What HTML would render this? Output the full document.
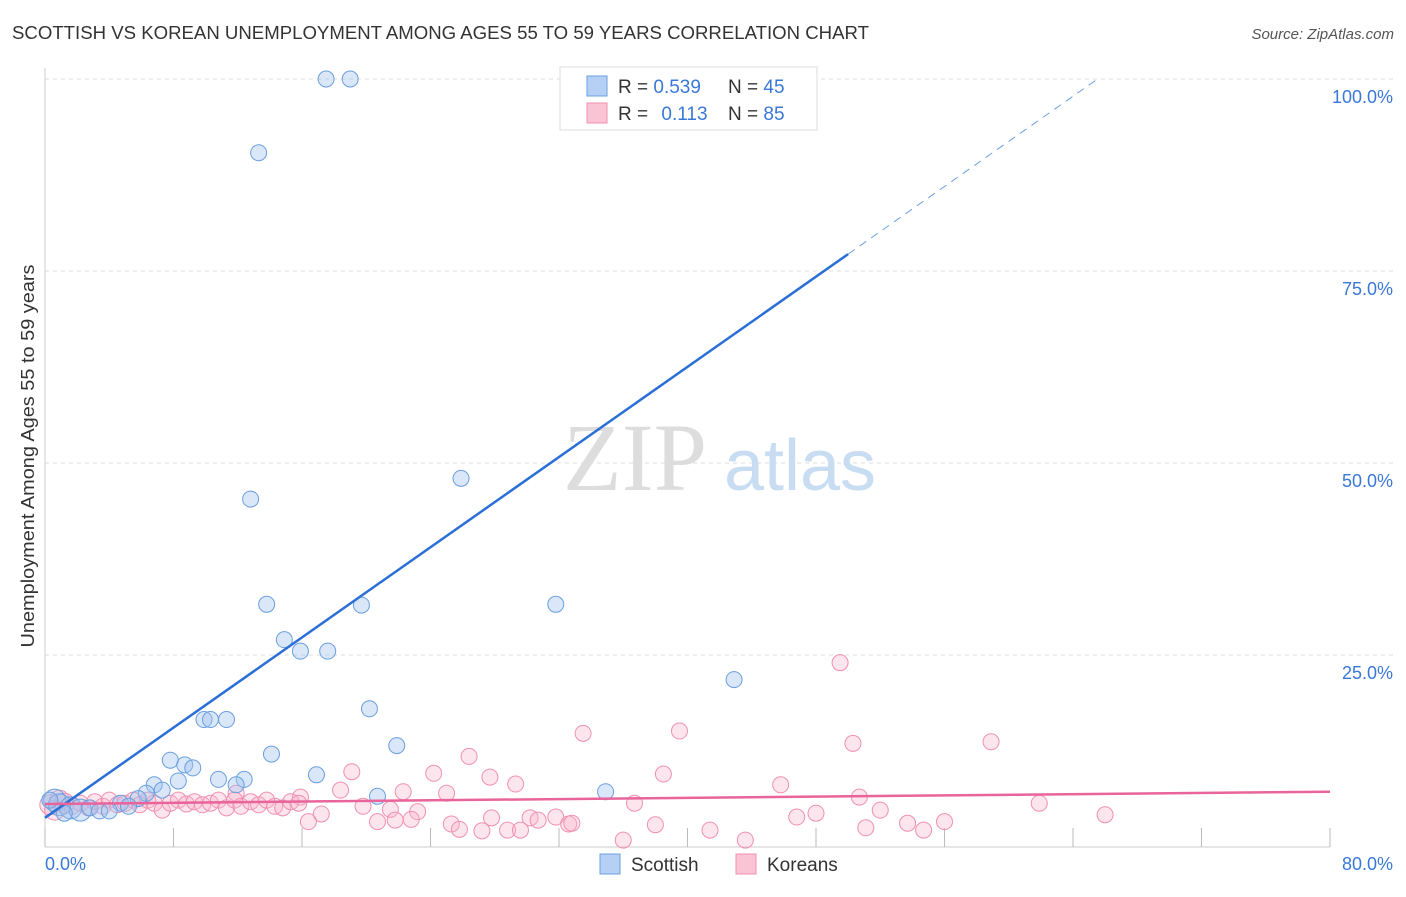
<!DOCTYPE html>
<html><head><meta charset="utf-8"><style>
body{margin:0;background:#fff;font-family:"Liberation Sans",sans-serif;}
</style></head><body>
<svg width="1406" height="892" xmlns="http://www.w3.org/2000/svg">
<text x="12" y="39" font-size="18" fill="#333" textLength="857" lengthAdjust="spacingAndGlyphs">SCOTTISH VS KOREAN UNEMPLOYMENT AMONG AGES 55 TO 59 YEARS CORRELATION CHART</text>
<text x="1394" y="39" font-size="15" fill="#555" text-anchor="end" font-style="italic">Source: ZipAtlas.com</text>
<g id="grid"></g>
<text x="635" y="490" font-size="96" fill="#ddd" font-family="Liberation Serif" text-anchor="middle">ZIP</text>
<text x="800" y="490" font-size="72" fill="#c8dcf2" text-anchor="middle">atlas</text>
<g id="pts"></g>
<g id="lines"></g>
<text transform="translate(34,456) rotate(-90)" font-size="18" fill="#333" text-anchor="middle" textLength="383" lengthAdjust="spacingAndGlyphs">Unemployment Among Ages 55 to 59 years</text>
<text x="45" y="870" font-size="18" fill="#3a78d8">0.0%</text>
<text x="1393" y="870" font-size="18" fill="#3a78d8" text-anchor="end">80.0%</text>
<g>
<rect x="560" y="67" width="257" height="63" fill="#fff" stroke="#ddd"/>
<rect x="587" y="76" width="20" height="20" fill="#b5d0f4" stroke="#6a9fe0"/>
<rect x="587" y="103" width="20" height="20" fill="#fac4d5" stroke="#f090b0"/>
<text x="618" y="93" font-size="19" fill="#333">R = <tspan fill="#3a78d8">0.539</tspan></text>
<text x="728" y="93" font-size="19" fill="#333">N = <tspan fill="#3a78d8">45</tspan></text>
<text x="618" y="120" font-size="19" fill="#333">R = <tspan fill="#3a78d8" dx="8">0.113</tspan></text>
<text x="728" y="120" font-size="19" fill="#333">N = <tspan fill="#3a78d8">85</tspan></text>
</g>
<g>
<rect x="600" y="854" width="20" height="20" fill="#b5d0f4" stroke="#6a9fe0"/>
<text x="631" y="871" font-size="19" fill="#333">Scottish</text>
<rect x="736" y="854" width="20" height="20" fill="#fac4d5" stroke="#f090b0"/>
<text x="767" y="871" font-size="19" fill="#333">Koreans</text>
</g>
</svg>
<script>
const yTicks=[25,50,75,100];
const yTickLabels=["25.0%","50.0%","75.0%","100.0%"];
const xTicks=[0,8,16,24,32,40,48,56,64,72,80];
const scotX=[17.5,19,33,41,13.3,12.8,25.9,13.8,19.7,31.8,14.9,15.9,17.6,42.9,20.2,9.9,10.3,11.3,21.9,14.1,7.8,8.7,9.2,16.9,10.8,12.4,11.9,6.8,8.3,7.3,6.3,5.8,4.7,5.2,34.9,20.7,0.6,0.9,1.6,2.2,2.8,3.4,4.0,0.3,1.2];
const scotY=[100,100,100,100,90.4,45.3,48,31.6,31.5,31.6,27,25.5,25.5,21.8,18,16.6,16.6,16.6,13.2,12.1,11.3,10.7,10.3,9.4,8.8,8.8,8.1,8.1,8.6,7.4,7,6.3,5.7,5.3,7.2,6.6,6.1,5.5,5.1,4.8,5.1,4.7,4.7,6.1,4.4];
const korX=[49.5,39.5,33.5,26.4,58.9,50.3,19.1,24.2,38.5,27.7,29.3,45.8,18.4,22.3,25,50.7,15.9,11.9,61.9,36.7,52,19.8,48,21.5,23.2,30.2,46.8,66,27.8,31.8,17.2,16.4,20.7,21.8,22.8,25.3,25.8,27.2,28.8,29.6,30.7,32.6,32.8,38,41.4,51.1,53.7,54.7,56,36,43.6,
0.3,0.6,0.9,1.2,1.7,2.2,2.7,3.1,3.6,4.0,4.5,5.0,5.5,5.9,6.4,6.8,7.3,7.8,8.3,8.8,9.3,9.8,10.3,10.8,11.3,11.8,12.2,12.8,13.3,13.8,14.3,14.8,15.3,15.8];
const korY=[24,15.1,14.8,11.8,13.7,13.5,9.8,9.6,9.5,9.1,8.2,8.1,7.4,7.2,7,6.5,6.5,7,5.7,5.7,4.8,5.3,4.4,4.9,4.6,3.8,3.9,4.2,3.8,3.9,4.3,3.3,3.3,3.5,3.6,3,2.3,2.1,2.2,2.2,3.5,3,3.1,2.9,2.2,2.5,3.1,2.2,3.3,0.9,0.9,
5.5,4.8,6.1,5.7,5.3,5.7,5.1,5.9,5.3,6.1,5.5,5.7,6.1,5.5,6.1,5.7,4.8,5.7,6.1,5.6,5.9,5.5,5.7,6.1,5.1,6.1,5.3,5.9,5.5,6.1,5.3,5.1,5.9,5.7];
const scotFit=[3.8,77.2];const korFit=[5.6,7.2];
const NS="http://www.w3.org/2000/svg";
const X=v=>45+v*1285/80, Y=v=>847-v*7.68;
function mk(t,a,p){const e=document.createElementNS(NS,t);for(const k in a)e.setAttribute(k,a[k]);p.appendChild(e);return e;}
const grid=document.getElementById('grid');
mk('line',{x1:45,y1:68,x2:45,y2:847,stroke:'#ccc'},grid);
mk('line',{x1:45,y1:847,x2:1330,y2:847,stroke:'#ccc'},grid);
yTicks.forEach((t,i)=>{
 const l=mk('line',{x1:45,y1:Y(t),x2:1393,y2:Y(t),stroke:'#ddd','stroke-dasharray':'4,4'},grid);
 
 
 const tx=mk('text',{x:1393,y:Y(t)+24,'font-size':18,fill:'#3a78d8','text-anchor':'end'},grid);
 tx.textContent=yTickLabels[i];
 
 
});
xTicks.forEach(t=>{
 const l=mk('line',{x1:X(t),y1:828,x2:X(t),y2:847,stroke:'#bbb'},grid);
 
 
});
const pts=document.getElementById('pts');
korX.forEach((x,i)=>{
 const c=mk('circle',{cx:X(x),cy:Y(korY[i]),r:i>=51&&i<55?10:8,fill:'rgba(248,180,204,0.35)',stroke:'#f090b0','stroke-width':1},pts);
 
 
});
scotX.forEach((x,i)=>{
 const c=mk('circle',{cx:X(x),cy:Y(scotY[i]),r:i>=36&&i<40?11:8,fill:'rgba(160,196,240,0.4)',stroke:'#6a9fe0','stroke-width':1},pts);
 
 
});
const ln=document.getElementById('lines');
const sl=(scotFit[1]-scotFit[0])/50;
const a=mk('line',{x1:X(0),y1:Y(scotFit[0]),x2:X(50),y2:Y(scotFit[1]),stroke:'#2a6fd6','stroke-width':2.5},ln);


const xe=(100-scotFit[0])/sl;
const b=mk('line',{x1:X(50),y1:Y(scotFit[1]),x2:X(xe),y2:Y(100),stroke:'#6a9fe0','stroke-width':1,'stroke-dasharray':'8,6'},ln);


const k=mk('line',{x1:X(0),y1:Y(korFit[0]),x2:X(80),y2:Y(korFit[1]),stroke:'#e8649a','stroke-width':2.5},ln);


</script>
</body></html>
